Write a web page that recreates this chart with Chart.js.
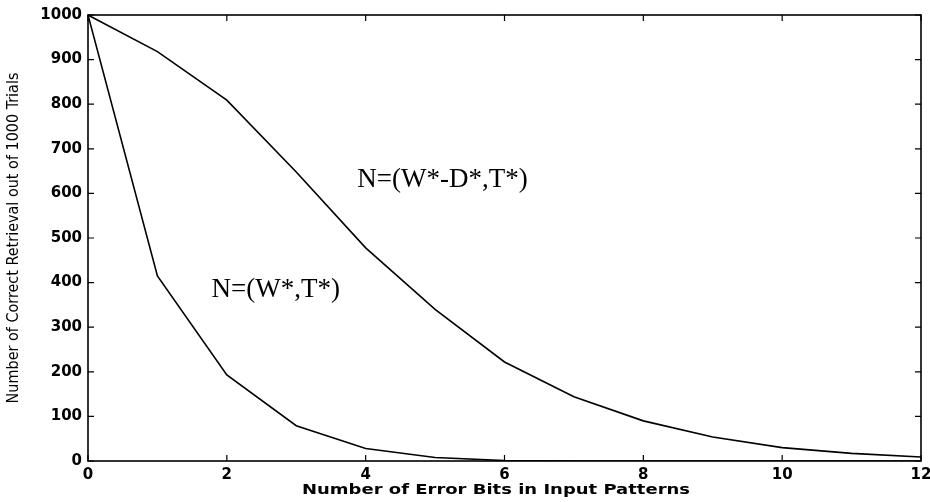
<!DOCTYPE html>
<html>
<head>
<meta charset="utf-8">
<script src="https://cdn.jsdelivr.net/npm/chart.js@4.4.0/dist/chart.umd.min.js"></script>
<style>
  html, body { margin: 0; padding: 0; background: #fff; }
  #wrap { width: 930px; height: 502px; }
</style>
</head>
<body>
<div id="wrap"><canvas id="retrieval-chart" width="930" height="502"></canvas></div>
<script>
// error bits on the x axis
const errorBits = [0, 1, 2, 3, 4, 5, 6, 7, 8, 9, 10, 11, 12];
// correct retrievals out of 1000 trials
const withDelta = [1000, 918, 809, 648, 478, 340, 222, 144, 90, 54, 30, 17, 9];
const plain = [1000, 415, 193, 79, 28, 8, 1, 0, 0, 0, 0, 0, 0];
const xTicks = [0, 2, 4, 6, 8, 10, 12];
const yTicks = [0, 100, 200, 300, 400, 500, 600, 700, 800, 900, 1000];
const xTitle = 'Number of Error Bits in Input Patterns';

// box around the plot, inward ticks, x title and the two curve labels
const framePlugin = {
  id: 'frame',
  afterDatasetsDraw(chart) {
    const ctx = chart.ctx;
    const a = chart.chartArea;
    const xs = chart.scales.x;
    const ys = chart.scales.y;
    ctx.save();
    ctx.strokeStyle = '#000';
    ctx.lineWidth = 1.6;
    ctx.strokeRect(a.left, a.top, a.right - a.left, a.bottom - a.top);

    ctx.lineWidth = 1.2;
    ctx.beginPath();
    xTicks.forEach(function (v) {
      const px = xs.getPixelForValue(v);
      ctx.moveTo(px, a.bottom); ctx.lineTo(px, a.bottom - 6);
      ctx.moveTo(px, a.top); ctx.lineTo(px, a.top + 6);
    });
    yTicks.forEach(function (v) {
      const py = ys.getPixelForValue(v);
      ctx.moveTo(a.left, py); ctx.lineTo(a.left + 6, py);
      ctx.moveTo(a.right, py); ctx.lineTo(a.right - 6, py);
    });
    ctx.stroke();

    ctx.fillStyle = '#000';
    ctx.font = '27px "Liberation Serif", "Times New Roman", serif';
    ctx.textAlign = 'left';
    ctx.textBaseline = 'middle';
    ctx.fillText('N=(W*-D*,T*)', xs.getPixelForValue(3.88), ys.getPixelForValue(630));
    ctx.fillText('N=(W*,T*)', xs.getPixelForValue(1.78), ys.getPixelForValue(383));

    // wide bold x title, stretched like the original
    ctx.font = 'bold 14px "DejaVu Sans", Arial, sans-serif';
    ctx.textAlign = 'center';
    const w = ctx.measureText(xTitle).width;
    ctx.translate(496, 490);
    ctx.scale(388 / w, 1);
    ctx.fillText(xTitle, 0, 0);
    ctx.restore();
  }
};

window.onload = function () {
  const ctx = document.getElementById('retrieval-chart').getContext('2d');

  new Chart(ctx, {
    type: 'line',
    data: {
      datasets: [
        {
          label: 'N=(W*-D*,T*)',
          data: errorBits.map((x, i) => ({ x: x, y: withDelta[i] })),
          borderColor: '#000',
          borderWidth: 1.6,
          pointRadius: 0,
          tension: 0,
          fill: false
        },
        {
          label: 'N=(W*,T*)',
          data: errorBits.map((x, i) => ({ x: x, y: plain[i] })),
          borderColor: '#000',
          borderWidth: 1.6,
          pointRadius: 0,
          tension: 0,
          fill: false
        }
      ]
    },
    options: {
      responsive: false,
      animation: false,
      layout: { padding: { top: 15, right: 9, left: 0, bottom: 0 } },
      plugins: {
        legend: { display: false },
        tooltip: { enabled: false }
      },
      scales: {
        x: {
          type: 'linear',
          min: 0,
          max: 12,
          grid: { display: false, drawTicks: false },
          border: { display: false },
          afterBuildTicks(scale) { scale.ticks = xTicks.map(v => ({ value: v })); },
          afterFit(scale) {
            scale.height = 41;
            scale.paddingRight = 0;
            scale.paddingLeft = 0;
          },
          ticks: {
            color: '#000',
            padding: 5,
            maxRotation: 0,
            font: { family: '"DejaVu Sans", Arial, sans-serif', size: 15, weight: 'bold' }
          }
        },
        y: {
          min: 0,
          max: 1000,
          grid: { display: false, drawTicks: false },
          border: { display: false },
          afterBuildTicks(scale) { scale.ticks = yTicks.map(v => ({ value: v })); },
          afterFit(scale) {
            scale.width = 88;
            scale.paddingTop = 0;
            scale.paddingBottom = 0;
          },
          ticks: {
            color: '#000',
            padding: 6,
            callback: v => String(v),
            font: { family: '"DejaVu Sans", Arial, sans-serif', size: 15, weight: 'bold' }
          },
          title: {
            display: true,
            text: 'Number of Correct Retrieval out of 1000 Trials',
            color: '#000',
            padding: { top: 4, bottom: 0 },
            font: { family: '"Liberation Sans Narrow", "DejaVu Sans Condensed", sans-serif', size: 16 }
          }
        }
      }
    },
    plugins: [framePlugin]
  });
};
</script>
</body>
</html>
